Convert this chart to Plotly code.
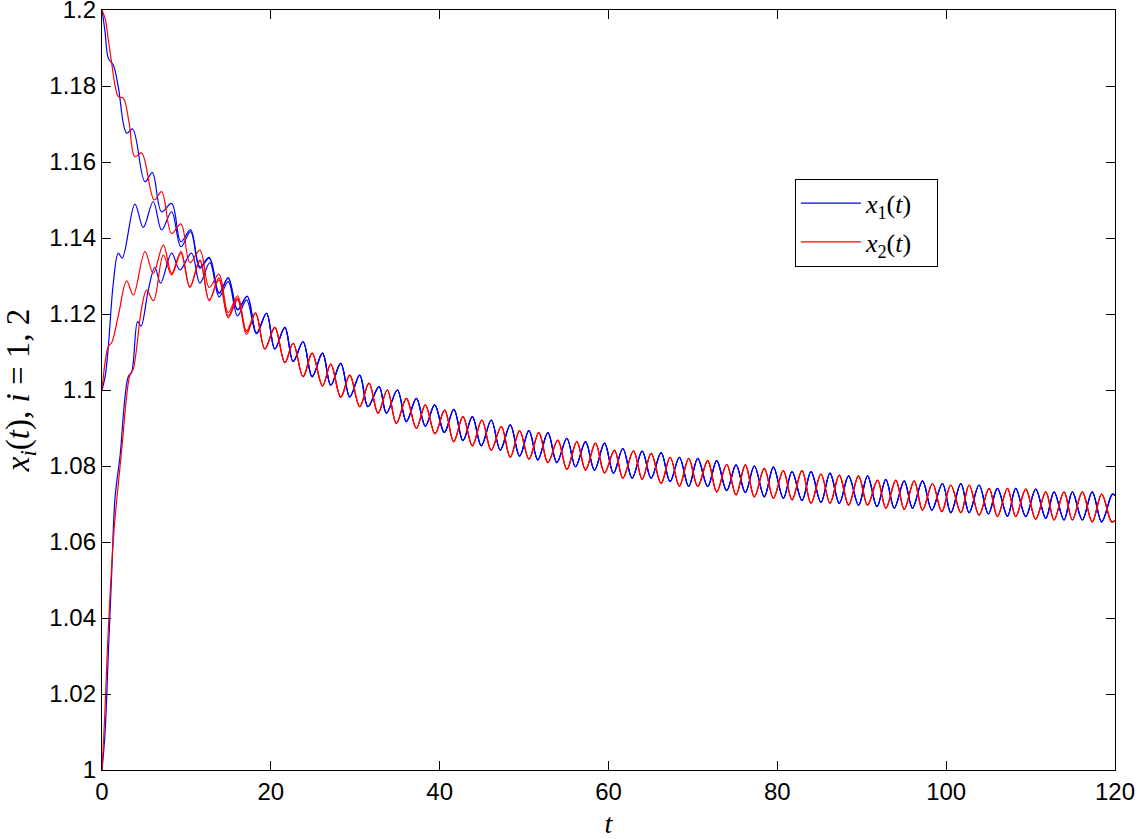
import plotly.graph_objects as go

# transient parts (turning points), t and x values
b1_t = [0, 0.35, 0.75, 1.34, 1.93, 2.92, 3.63, 5.09, 5.96, 7.06, 8.25, 9.35, 10.49, 11.6, 12.7, 13.88, 14.95, 16.06, 17.2, 18.3]
b1_x = [1.2, 1.1945, 1.1873, 1.1855, 1.1798, 1.1676, 1.1687, 1.1548, 1.1572, 1.1469, 1.1491, 1.139, 1.1422, 1.1324, 1.1349, 1.1256, 1.1296, 1.1212, 1.1247, 1.115]

b2_t = [0, 0.4, 0.75, 1.34, 1.93, 2.4, 3.9, 4.89, 6.07, 7.06, 8.25, 9.35, 10.49, 11.6, 12.7, 13.88, 14.95, 16.06, 17.2, 18.3]
b2_x = [1.1, 1.104, 1.1114, 1.1281, 1.136, 1.1347, 1.1489, 1.1428, 1.1496, 1.1421, 1.1469, 1.1377, 1.1417, 1.132, 1.1347, 1.1254, 1.1294, 1.1211, 1.1246, 1.1149]

b3_t = [0, 0.36, 0.75, 1.15, 1.54, 2.13, 3.11, 3.51, 4.22, 4.62, 5.48, 6.27, 6.94, 8.25, 9.23, 10.6, 11.6, 12.78, 13.88, 14.95, 16.06, 17.12, 18.3]
b3_x = [1.0, 1.0097, 1.0307, 1.0518, 1.0715, 1.0825, 1.1035, 1.1046, 1.118, 1.1168, 1.1263, 1.1323, 1.1281, 1.136, 1.1316, 1.136, 1.1281, 1.1335, 1.1245, 1.1285, 1.1195, 1.1237, 1.1148]

r1_t = [0, 0.4, 0.75, 1.15, 1.6, 1.93, 2.52, 3.2, 3.9, 4.69, 6.19, 7.06, 8.25, 9.35, 10.41, 11.6, 12.7, 13.85, 14.95, 16.06, 17.12, 18.19]
r1_x = [1.2, 1.1975, 1.1921, 1.186, 1.1795, 1.1772, 1.1768, 1.1705, 1.1614, 1.1624, 1.15, 1.1522, 1.1412, 1.1437, 1.1335, 1.1368, 1.127, 1.1305, 1.1204, 1.1248, 1.1156, 1.1203]

r2_t = [0, 0.35, 0.75, 1.15, 1.93, 2.92, 3.71, 5.09, 6.07, 7.26, 8.25, 9.35, 10.41, 11.6, 12.7, 13.85, 14.95, 16.06, 17.12, 18.19]
r2_x = [1.1, 1.107, 1.1115, 1.1125, 1.1195, 1.1287, 1.125, 1.1364, 1.1307, 1.1382, 1.1307, 1.1364, 1.1272, 1.1342, 1.1237, 1.129, 1.119, 1.1237, 1.1146, 1.1202]

r3_t = [0, 0.3, 0.67, 1.34, 1.74, 2.33, 3.31, 3.7, 4.69, 5.29, 6.1, 7.26, 8.25, 9.35, 10.41, 11.6, 12.7, 13.85, 14.95, 16.06, 17.12, 18.19]
r3_x = [1.0, 1.013, 1.0333, 1.0605, 1.071, 1.0842, 1.104, 1.1055, 1.1215, 1.1263, 1.1235, 1.1355, 1.1303, 1.136, 1.127, 1.134, 1.1235, 1.1295, 1.1195, 1.1242, 1.1152, 1.1202]

# common tail once the trajectories have merged
blue_tail_t = [19.49, 20.47, 21.66, 22.64, 23.82, 24.89, 26.12, 27.10, 28.28, 29.35, 30.53, 31.50, 32.82, 33.69,
               34.99, 36.06, 37.24, 38.30, 39.41, 40.55, 41.68, 42.76, 43.87, 44.93, 46.11, 47.18, 48.36, 49.47,
               50.57, 51.63, 52.82, 53.88, 55.07, 56.09, 57.28, 58.34, 59.53, 60.59, 61.70, 62.80, 63.99, 65.05,
               66.23, 67.30, 68.40, 69.50, 70.57, 71.75, 72.82, 74.00, 75.11, 76.21, 77.28, 78.46, 79.53, 80.71,
               81.74, 82.92, 83.99, 85.17, 86.24, 87.34, 88.44, 89.62, 90.69, 91.80, 92.86, 93.85, 95.03, 96.01,
               97.20, 98.30, 99.56, 100.55, 101.74, 102.72, 103.90, 105.00, 106.07, 107.26, 108.24, 109.43,
               110.61, 111.80, 112.78, 113.96, 114.95, 116.13, 117.30, 118.42, 119.68, 120.0]
blue_tail_x = [1.1202, 1.1108, 1.1165, 1.1075, 1.1127, 1.1035, 1.1097, 1.1013, 1.1070, 1.0982, 1.1039, 1.0956, 1.1009, 1.0939,
               1.1000, 1.0917, 1.0978, 1.0905, 1.0961, 1.0888, 1.0949, 1.0867, 1.0930, 1.0853, 1.0921, 1.0842, 1.0908, 1.0826,
               1.0893, 1.0816, 1.0888, 1.0809, 1.0873, 1.0798, 1.0864, 1.0789, 1.0860, 1.0781, 1.0846, 1.0768, 1.0839, 1.0768,
               1.0835, 1.0759, 1.0823, 1.0746, 1.0820, 1.0746, 1.0814, 1.0735, 1.0803, 1.0730, 1.0800, 1.0719, 1.0797, 1.0715,
               1.0785, 1.0709, 1.0785, 1.0704, 1.0781, 1.0702, 1.0774, 1.0697, 1.0774, 1.0693, 1.0765, 1.0689, 1.0761, 1.0689,
               1.0761, 1.0684, 1.0754, 1.0677, 1.0754, 1.0677, 1.0750, 1.0674, 1.0741, 1.0668, 1.0741, 1.0667,
               1.0739, 1.0662, 1.0732, 1.0658, 1.0732, 1.0658, 1.0732, 1.0653, 1.0726, 1.0722]

red_tail_t = [19.29, 20.47, 21.66, 22.64, 23.82, 24.89, 26.12, 27.10, 28.28, 29.35, 30.53, 31.63, 32.70, 33.80,
              34.87, 36.06, 37.24, 38.30, 39.45, 40.59, 41.66, 42.76, 43.87, 45.00, 46.11, 47.30, 48.36, 49.47,
              50.57, 51.75, 52.82, 54.00, 55.07, 56.25, 57.28, 58.46, 59.53, 60.71, 61.70, 62.96, 63.99, 65.05,
              66.23, 67.30, 68.40, 69.50, 70.57, 71.75, 72.82, 74.00, 75.11, 76.21, 77.28, 78.46, 79.53, 80.71,
              81.74, 82.92, 83.99, 85.17, 86.24, 87.34, 88.44, 89.62, 90.69, 91.87, 92.86, 94.04, 95.03, 96.21,
              97.20, 98.38, 99.48, 100.55, 101.74, 102.72, 103.90, 105.09, 106.07, 107.26, 108.24, 109.43,
              110.61, 111.80, 112.78, 113.96, 114.95, 116.13, 117.30, 118.42, 119.60, 120.0]
red_tail_x = [1.1108, 1.1165, 1.1072, 1.1123, 1.1035, 1.1097, 1.1011, 1.1068, 1.0981, 1.1039, 1.0956, 1.1018, 1.0939, 1.1000,
              1.0912, 1.0978, 1.0899, 1.0961, 1.0885, 1.0947, 1.0864, 1.0930, 1.0853, 1.0921, 1.0842, 1.0904, 1.0823, 1.0893,
              1.0818, 1.0888, 1.0809, 1.0868, 1.0791, 1.0864, 1.0789, 1.0860, 1.0782, 1.0842, 1.0768, 1.0840, 1.0765, 1.0833,
              1.0754, 1.0823, 1.0747, 1.0820, 1.0746, 1.0814, 1.0732, 1.0804, 1.0724, 1.0803, 1.0719, 1.0794, 1.0715, 1.0788,
              1.0711, 1.0788, 1.0702, 1.0779, 1.0702, 1.0776, 1.0697, 1.0774, 1.0697, 1.0763, 1.0689, 1.0763, 1.0686, 1.0761,
              1.0684, 1.0754, 1.0680, 1.0750, 1.0677, 1.0750, 1.0671, 1.0741, 1.0667, 1.0741, 1.0667, 1.0739,
              1.0660, 1.0732, 1.0658, 1.0732, 1.0658, 1.0732, 1.0653, 1.0726, 1.0653, 1.0656]

ytick_vals = [1.0, 1.02, 1.04, 1.06, 1.08, 1.1, 1.12, 1.14, 1.16, 1.18, 1.2]
ytick_text = ["1", "1.02", "1.04", "1.06", "1.08", "1.1", "1.12", "1.14", "1.16", "1.18", "1.2"]
xtick_vals = [0, 20, 40, 60, 80, 100, 120]

fig = go.Figure()

blue_runs = [(b1_t, b1_x), (b2_t, b2_x), (b3_t, b3_x)]
red_runs = [(r1_t, r1_x), (r2_t, r2_x), (r3_t, r3_x)]

for i, (tt, xx) in enumerate(blue_runs):
    fig.add_trace(go.Scatter(
        x=tt + blue_tail_t, y=xx + blue_tail_x, mode="lines",
        line=dict(color="#0000ff", width=1.2, shape="spline", smoothing=1),
        name="<i>x</i><sub>1</sub>(<i>t</i>)   ", legendgroup="x1", showlegend=(i == 0),
    ))
for i, (tt, xx) in enumerate(red_runs):
    fig.add_trace(go.Scatter(
        x=tt + red_tail_t, y=xx + red_tail_x, mode="lines",
        line=dict(color="#ff0000", width=1.2, shape="spline", smoothing=1),
        name="<i>x</i><sub>2</sub>(<i>t</i>)   ", legendgroup="x2", showlegend=(i == 0),
    ))

fig.update_layout(
    width=1141, height=839,
    margin=dict(l=102, r=26, t=10, b=69),
    paper_bgcolor="white",
    plot_bgcolor="white",
    font=dict(family="Liberation Sans, Arial, sans-serif", size=24, color="black"),
    legend=dict(
        x=0.684, y=0.778, xanchor="left", yanchor="top",
        bgcolor="white", bordercolor="black", borderwidth=1,
        font=dict(family="Liberation Serif, serif", size=26),
        itemwidth=60, tracegroupgap=2,
    ),
    showlegend=True,
)

fig.update_xaxes(
    range=[0, 120], tickvals=xtick_vals, automargin=False, ticklabeloverflow="allow",
    showgrid=False, zeroline=False,
    showline=True, linecolor="black", linewidth=1.3, mirror="ticks",
    ticks="inside", ticklen=9, tickwidth=1, tickcolor="black",
    title=dict(text="<i>t</i>", font=dict(family="Liberation Serif, serif", size=28)),
)
fig.update_yaxes(
    range=[1.0, 1.2], tickvals=ytick_vals, ticktext=ytick_text, automargin=False, ticklabeloverflow="allow",
    showgrid=False, zeroline=False,
    showline=True, linecolor="black", linewidth=1.3, mirror="ticks",
    ticks="inside", ticklen=9, tickwidth=1, tickcolor="black",
    title=dict(text="<i>x<sub>i</sub></i>(<i>t</i>), <i>i</i> = 1, 2",
               font=dict(family="Liberation Serif, serif", size=33)),
)

# drop the browser's default 8px body margin so the figure sits at the page corner
fig.write_html("out.html", config={"displayModeBar": False},
               post_script="document.body.style.margin='0';")
